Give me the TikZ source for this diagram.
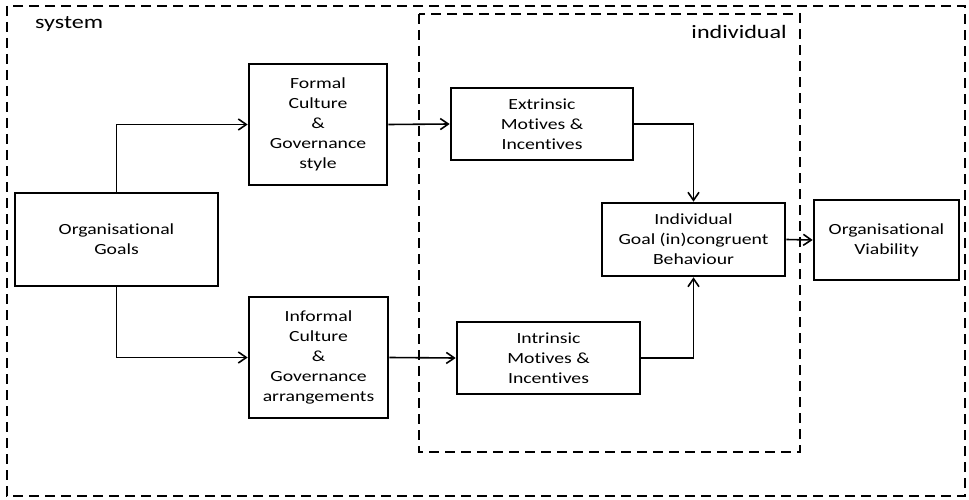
\documentclass[tikz,border=0pt]{standalone}
\usepackage{fontspec}
\setmainfont{Carlito}[FakeStretch=1.27, Ligatures=NoCommon]
\usetikzlibrary{arrows.meta}
\tikzset{
  x=1pt, y=-1pt,
  box/.style={draw, line width=2.6pt, rectangle, align=center, inner sep=0pt,
    font=\fontsize{15.5}{20}\selectfont},
  region/.style={draw, line width=2.8pt, dash pattern=on 10pt off 6pt},
  conn/.style={line width=1.6pt, -{Straight Barb[length=8pt,width=11pt,line width=1.6pt]}},
  lbl/.style={font=\fontsize{19}{22}\selectfont, inner sep=0pt}
}
\begin{document}
\begin{tikzpicture}
\useasboundingbox (0,0) rectangle (969,500);
\draw[region] (7,6) rectangle (965,496);
\draw[region] (419,14) rectangle (800,452);
\node[lbl, anchor=base west] (syslbl) at (35,29) {system};
\node[lbl, anchor=base east] (indlbl) at (787,39) {individual};

\node[box, minimum width=203, minimum height=93] (goals) at (116.5,239.5) {Organisational\\Goals};
\node[box, minimum width=138, minimum height=121] (formal) at (318,124.5) {Formal\\Culture\\\&\\Governance\\style};
\node[box, minimum width=139, minimum height=121] (informal) at (318.5,357.5) {Informal\\Culture\\\&\\Governance\\arrangements};
\node[box, minimum width=182, minimum height=72] (extr) at (542,124) {Extrinsic\\Motives \&\\Incentives};
\node[box, minimum width=183, minimum height=72] (intr) at (548.5,358) {Intrinsic\\Motives \&\\Incentives};
\node[box, minimum width=183, minimum height=73] (indiv) at (693.5,239.5) {Individual\\Goal (in)congruent\\Behaviour};
\node[box, minimum width=145, minimum height=80] (viab) at (886.5,240) {Organisational\\Viability};

\draw[conn] (goals.north) |- (formal.west);
\draw[conn] (goals.south) |- (informal.west);
\draw[conn] (formal.east) -- (extr.west);
\draw[conn] (informal.east) -- (intr.west);
\draw[conn] (extr.east) -| (indiv.north);
\draw[conn] (intr.east) -| (indiv.south);
\draw[conn] (indiv.east) -- (viab.west);
\end{tikzpicture}
\end{document}
